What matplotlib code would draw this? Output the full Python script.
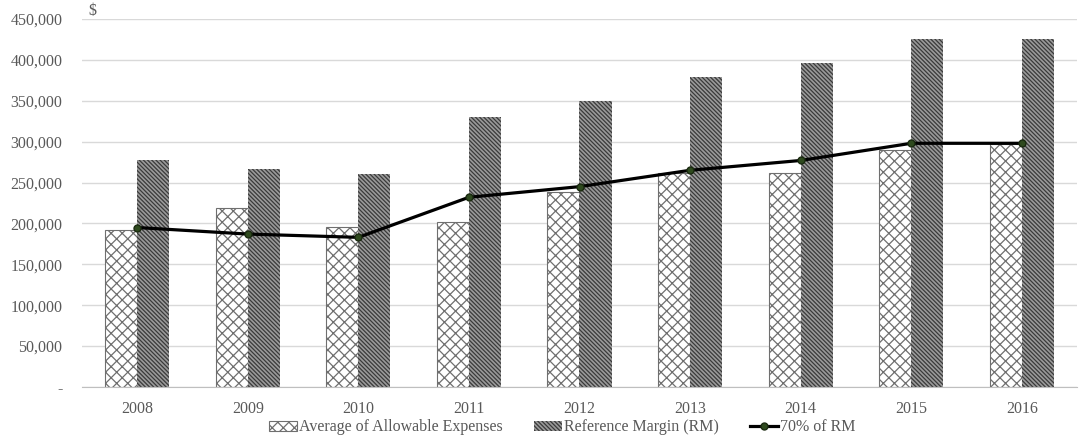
import matplotlib
matplotlib.use("Agg")
import matplotlib.pyplot as plt
import numpy as np
from matplotlib.ticker import FuncFormatter

years = ["2008", "2009", "2010", "2011", "2012", "2013", "2014", "2015", "2016"]
avg_allowable = [192000, 219000, 196000, 202000, 238000, 262000, 262000, 290000, 297000]
reference_margin = [278000, 266000, 260000, 330000, 350000, 379000, 396000, 426000, 426000]
rm_70 = [195000, 187000, 183000, 232000, 245000, 265000, 277000, 298000, 298000]

plt.rcParams["font.family"] = ["Liberation Serif", "DejaVu Serif"]
plt.rcParams["hatch.linewidth"] = 0.9

text_col = "#595959"
fig = plt.figure(figsize=(10.86, 4.42), dpi=100)
ax = fig.add_axes([82 / 1086, 1 - 387 / 442, 995 / 1086, 368 / 442])

x = np.arange(len(years))
w = 0.29
b1 = ax.bar(x - w / 2, avg_allowable, width=w, color="white", edgecolor="#6f6f6f",
            hatch="xxx", linewidth=0.8, label="Average of Allowable Expenses", zorder=2)
b2 = ax.bar(x + w / 2, reference_margin, width=w, color="#9a9a9a", edgecolor="#3a3a3a",
            hatch="\\\\\\\\\\\\\\\\", linewidth=0.0, label="Reference Margin (RM)", zorder=2)
ln, = ax.plot(x, rm_70, color="black", linewidth=2.3, marker="o", markersize=5,
              markerfacecolor="#2e4a1e", markeredgecolor="#1a2a10", label="70% of RM", zorder=3)

ax.set_xlim(-0.5, len(years) - 0.5)
ax.set_ylim(0, 450000)
ax.set_yticks(np.arange(0, 450001, 50000))
ax.yaxis.set_major_formatter(FuncFormatter(lambda v, p: "-" if v == 0 else f"{int(v):,}"))
ax.set_xticks(x)
ax.set_xticklabels(years)
ax.grid(axis="y", color="#d9d9d9", linewidth=1, zorder=0)
ax.set_axisbelow(True)
for s in ["top", "right", "left"]:
    ax.spines[s].set_visible(False)
ax.spines["bottom"].set_color("#bfbfbf")
ax.tick_params(axis="both", length=0, colors=text_col, labelsize=11.5)
ax.tick_params(axis="y", pad=14)
ax.tick_params(axis="x", pad=10)

fig.text(88 / 1086, 1 - 11 / 442, "$", color=text_col, fontsize=11.5, va="center", ha="left")

leg = ax.legend(handles=[b1, b2, ln], loc="center", bbox_to_anchor=((562 - 82) / 995, -0.11),
                ncol=3, frameon=False, fontsize=11.5, handlelength=1.75, handleheight=0.6,
                handletextpad=0.12, columnspacing=1.95, borderpad=0)
for t in leg.get_texts():
    t.set_color(text_col)

fig.savefig("out.png", dpi=100)
